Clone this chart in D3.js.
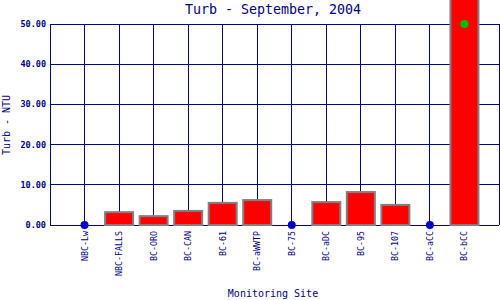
<!DOCTYPE html>
<html>
<head>
<meta charset="utf-8">
<script src="https://cdn.jsdelivr.net/npm/d3@7"></script>
<style>
  body { margin: 0; background: #fff; }
  svg { display: block; }
  text { font-family: "DejaVu Sans Mono", "Liberation Mono", monospace; fill: #000080; }
  line { shape-rendering: crispEdges; }
</style>
</head>
<body>
<svg id="chart" width="500" height="300"></svg>
<script>
"use strict";

// Chart values
const sites = ["NBC-Lw", "NBC-FALLS", "BC-ORO", "BC-CAN", "BC-61", "BC-aWWTP",
               "BC-75", "BC-aDC", "BC-95", "BC-107", "BC-aCC", "BC-bCC"];
const turb = [0, 3.2, 2.2, 3.5, 5.5, 6.2, 0, 5.7, 8.2, 5.0, 0, 60];
const yTicks = [0, 10, 20, 30, 40, 50];
const yMax = 50;

// Plot frame
const plotLeft = 50, plotRight = 499, plotTop = 24, plotBottom = 225;

const svg = d3.select("#chart");

const x = d3.scalePoint()
    .domain(sites)
    .range([plotLeft, plotRight])
    .padding(1);

const y = d3.scaleLinear()
    .domain([0, yMax])
    .range([plotBottom, plotTop]);

const navy = "#000080";

// Horizontal grid lines
svg.append("g")
    .selectAll("line")
    .data(yTicks)
    .enter()
    .append("line")
    .attr("x1", plotLeft)
    .attr("x2", plotRight)
    .attr("y1", d => y(d))
    .attr("y2", d => y(d))
    .attr("stroke", navy)
    .attr("stroke-width", 1);

// Vertical grid lines (one per site plus the frame sides)
svg.append("g")
    .selectAll("line")
    .data(sites)
    .enter()
    .append("line")
    .attr("x1", d => x(d))
    .attr("x2", d => x(d))
    .attr("y1", plotTop)
    .attr("y2", plotBottom)
    .attr("stroke", navy)
    .attr("stroke-width", 1);

svg.append("g")
    .selectAll("line")
    .data([plotLeft, plotRight])
    .enter()
    .append("line")
    .attr("x1", d => d)
    .attr("x2", d => d)
    .attr("y1", plotTop)
    .attr("y2", plotBottom)
    .attr("stroke", navy)
    .attr("stroke-width", 1);

// Y tick labels
svg.append("g")
    .selectAll("text")
    .data(yTicks)
    .enter()
    .append("text")
    .attr("x", 46)
    .attr("y", d => y(d))
    .attr("dy", "0.35em")
    .attr("text-anchor", "end")
    .attr("font-size", "8.5px")
    .attr("font-weight", "bold")
    .text(d => d3.format(".2f")(d));

// Bars
const barW = 28;
const barData = sites.map((s, i) => ({site: s, value: turb[i]}));

svg.append("g")
    .selectAll("rect")
    .data(barData.filter(d => d.value > 0))
    .enter()
    .append("rect")
    .attr("x", d => x(d.site) - barW / 2)
    .attr("y", d => y(d.value))
    .attr("width", barW)
    .attr("height", d => y(0) - y(d.value))
    .attr("fill", "#ff0000")
    .attr("stroke", "#808080")
    .attr("stroke-width", 2);

// Zero-value markers
svg.append("g")
    .selectAll("circle")
    .data(barData.filter(d => d.value === 0))
    .enter()
    .append("circle")
    .attr("cx", d => x(d.site))
    .attr("cy", y(0))
    .attr("r", 4)
    .attr("fill", "#0000c8");

// Off-scale markers
svg.append("g")
    .selectAll("circle")
    .data(barData.filter(d => d.value > yMax))
    .enter()
    .append("circle")
    .attr("cx", d => x(d.site))
    .attr("cy", y(yMax))
    .attr("r", 4)
    .attr("fill", "#00c000");

// X tick labels (rotated)
svg.append("g")
    .selectAll("text")
    .data(sites)
    .enter()
    .append("text")
    .attr("transform", d => "translate(" + (x(d) + 3) + "," + 231 + ") rotate(-90)")
    .attr("text-anchor", "end")
    .attr("font-size", "8.3px")
    .text(d => d);

// Title and axis titles
svg.append("text")
    .attr("x", 273)
    .attr("y", 14)
    .attr("text-anchor", "middle")
    .attr("font-size", "13.3px")
    .text("Turb - September, 2004");

svg.append("text")
    .attr("x", 273)
    .attr("y", 297)
    .attr("text-anchor", "middle")
    .attr("font-size", "10px")
    .text("Monitoring Site");

svg.append("text")
    .attr("transform", "translate(10,125) rotate(-90)")
    .attr("text-anchor", "middle")
    .attr("font-size", "10px")
    .text("Turb - NTU");
</script>
</body>
</html>
